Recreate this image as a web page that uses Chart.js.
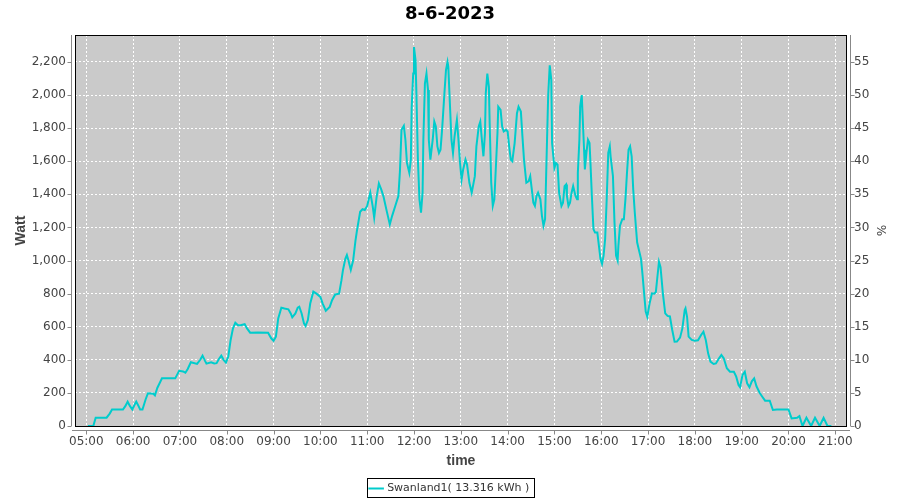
<!DOCTYPE html>
<html>
<head>
<meta charset="utf-8">
<script src="https://cdn.jsdelivr.net/npm/chart.js@4.4.0/dist/chart.umd.min.js"></script>
<style>
  html, body { margin: 0; padding: 0; background: #fff; }
  #wrap { width: 900px; height: 500px; }
</style>
</head>
<body>
<div id="wrap"><canvas id="powerChart" width="900" height="500"></canvas></div>
<script>
const chartTitle = "8-6-2023";
const seriesName = "Swanland1( 13.316 kWh )";

const times = [
  "05:02","05:09","05:12","05:26","05:30","05:33","05:47","05:50","05:53","05:56","05:59","06:02","06:04","06:07","06:09","06:12",
  "06:16","06:19","06:26","06:28","06:31","06:37","06:54","06:59","07:04","07:07","07:10","07:14","07:22","07:26","07:29","07:32",
  "07:34","07:40","07:44","07:47","07:50","07:53","07:56","07:59","08:02","08:05","08:08","08:11","08:14","08:17","08:20","08:23",
  "08:26","08:30","08:40","08:53","08:57","09:00","09:03","09:06","09:10","09:14","09:19","09:22","09:24","09:28","09:31","09:33",
  "09:36","09:39","09:41","09:44","09:47","09:51","09:55","10:00","10:03","10:07","10:12","10:15","10:19","10:24","10:27","10:29",
  "10:32","10:34","10:36","10:39","10:42","10:45","10:47","10:51","10:54","10:57","11:00","11:04","11:07","11:09","11:12","11:15",
  "11:18","11:21","11:25","11:29","11:32","11:36","11:40","11:42","11:44","11:47","11:49","11:51","11:54","11:56","11:57","11:59",
  "12:00","12:02","12:03","12:05","12:07","12:09","12:11","12:12","12:14","12:16","12:18","12:19","12:21","12:24","12:26","12:28",
  "12:30","12:32","12:34","12:36","12:39","12:41","12:43","12:44","12:46","12:48","12:50","12:52","12:55","12:57","12:59","13:01",
  "13:03","13:06","13:08","13:11","13:14","13:18","13:20","13:23","13:25","13:27","13:29","13:31","13:32","13:34","13:36","13:37",
  "13:39","13:41","13:43","13:45","13:47","13:48","13:51","13:53","13:55","13:58","14:00","14:02","14:04","14:06","14:09","14:12",
  "14:14","14:17","14:19","14:21","14:24","14:27","14:29","14:31","14:33","14:35","14:37","14:39","14:42","14:44","14:46","14:48",
  "14:50","14:52","14:54","14:56","14:57","15:00","15:02","15:04","15:06","15:09","15:11","15:13","15:15","15:16","15:18","15:20",
  "15:22","15:24","15:27","15:29","15:30","15:32","15:33","15:35","15:36","15:38","15:39","15:41","15:43","15:45","15:46","15:48",
  "15:50","15:52","15:55","15:57","15:59","16:01","16:03","16:05","16:07","16:09","16:11","16:12","16:15","16:17","16:19","16:21",
  "16:22","16:24","16:27","16:29","16:31","16:33","16:35","16:37","16:39","16:41","16:43","16:45","16:46","16:48","16:51","16:53",
  "16:55","16:57","16:59","17:02","17:05","17:08","17:10","17:12","17:14","17:16","17:19","17:22","17:25","17:28","17:31","17:34",
  "17:37","17:41","17:44","17:47","17:48","17:50","17:52","17:56","18:00","18:04","18:08","18:11","18:14","18:17","18:20","18:24",
  "18:27","18:31","18:34","18:37","18:41","18:45","18:50","18:53","18:56","18:58","19:01","19:04","19:07","19:10","19:13","19:16",
  "19:19","19:23","19:26","19:30","19:36","19:40","19:45","20:00","20:04","20:11","20:14","20:18","20:23","20:29","20:34","20:40",
  "20:45","20:50","20:55"
];

const watts = [
  0,0,50,50,75,100,100,120,147,120,100,130,147,120,100,100,
  160,198,195,185,230,288,288,334,330,322,345,385,375,400,425,395,
  377,385,378,380,405,425,400,383,420,520,590,624,610,607,612,615,
  590,564,565,564,530,515,540,650,715,710,705,680,657,680,715,721,
  680,620,604,640,740,812,800,780,740,697,720,760,795,800,880,943,
  1010,1033,1000,943,1000,1120,1184,1295,1310,1305,1330,1410,1330,1259,1380,1466,
  1430,1386,1300,1218,1270,1330,1390,1540,1790,1814,1730,1590,1530,1610,1920,2130,
  2290,2210,2030,1610,1370,1290,1410,1730,2070,2130,2030,1730,1610,1730,1840,1810,
  1690,1650,1670,1790,2010,2150,2200,2170,1950,1730,1650,1750,1850,1730,1590,1490,
  1550,1610,1580,1470,1410,1510,1690,1810,1840,1730,1630,1770,2010,2130,2050,1830,
  1470,1330,1370,1570,1770,1930,1910,1810,1780,1790,1780,1690,1610,1600,1710,1890,
  1930,1900,1750,1610,1470,1480,1510,1430,1350,1330,1390,1410,1370,1270,1210,1250,
  1630,2000,2180,2090,1710,1560,1590,1580,1410,1330,1350,1450,1460,1390,1330,1350,
  1410,1450,1390,1370,1530,1730,1930,2000,1890,1670,1550,1650,1730,1710,1610,1390,
  1190,1170,1170,1090,1010,980,1030,1130,1370,1650,1690,1630,1510,1230,1030,1000,
  1090,1210,1250,1250,1370,1530,1670,1690,1630,1430,1290,1170,1110,1070,1010,910,
  800,691,660,741,802,800,810,902,993,960,802,681,665,662,580,509,
  510,534,590,701,711,660,540,520,515,518,550,570,520,439,389,375,
  378,409,429,409,349,328,328,298,248,234,308,328,258,234,270,288,
  240,201,180,153,153,97,100,100,46,50,60,0,50,0,50,0,
  50,0,0
];

const hourTicks = [5,6,7,8,9,10,11,12,13,14,15,16,17,18,19,20,21];
const wattTicks = [0,200,400,600,800,1000,1200,1400,1600,1800,2000,2200];
const percentTicks = [0,5,10,15,20,25,30,35,40,45,50,55];

const xMin = 4.7586, xMax = 21.25;
const wattMax = 2363;
const wattPerPercent = 40;

const toHours = t => { const p = t.split(":"); return +p[0] + +p[1] / 60; };
const points = times.map((t, i) => ({ x: toHours(t), y: watts[i] }));

const pad2 = n => String(n).padStart(2, "0");
const fmtTick = v => v.toLocaleString("en-US");

const legendShift = 4;

// plot background, border, offset axis lines, tick marks and legend frame
const frame = {
  id: "frame",
  afterLayout(chart) {
    const lg = chart.legend;
    if (!lg) return;
    lg.top += legendShift;
    lg.bottom += legendShift;
  },
  beforeDraw(chart) {
    const { ctx, chartArea: a } = chart;
    ctx.save();
    ctx.fillStyle = "#cacaca";
    ctx.fillRect(a.left, a.top, a.right - a.left, a.bottom - a.top);
    ctx.restore();
  },
  afterDraw(chart) {
    const { ctx, chartArea: a, scales } = chart;
    ctx.save();
    ctx.strokeStyle = "#000";
    ctx.lineWidth = 1;
    ctx.strokeRect(a.left + 0.5, a.top + 0.5, a.right - a.left - 1, a.bottom - a.top);

    ctx.strokeStyle = "#888";
    const lx = a.left - 3.5, rx = a.right + 3.5, by = a.bottom + 4.5;
    ctx.beginPath();
    ctx.moveTo(lx, a.top); ctx.lineTo(lx, a.bottom);
    ctx.moveTo(rx, a.top); ctx.lineTo(rx, a.bottom);
    ctx.moveTo(a.left - 3, by); ctx.lineTo(a.right + 3, by);
    scales.y.ticks.forEach(t => {
      const y = Math.round(scales.y.getPixelForValue(t.value)) + 0.5;
      ctx.moveTo(lx, y); ctx.lineTo(lx - 4, y);
    });
    scales.y1.ticks.forEach(t => {
      const y = Math.round(scales.y1.getPixelForValue(t.value)) + 0.5;
      ctx.moveTo(rx, y); ctx.lineTo(rx + 4, y);
    });
    scales.x.ticks.forEach(t => {
      const x = Math.round(scales.x.getPixelForValue(t.value)) + 0.5;
      ctx.moveTo(x, by); ctx.lineTo(x, by + 4);
    });
    ctx.stroke();

    const lg = chart.legend;
    if (lg && lg.legendHitBoxes && lg.legendHitBoxes.length) {
      const h = lg.legendHitBoxes[0];
      ctx.strokeStyle = "#000";
      ctx.strokeRect(Math.round(h.left) - 3.5, Math.round(h.top) - 4.5, Math.round(h.width) + 8, Math.round(h.height) + 8);
    }
    ctx.restore();
  }
};

const tickFont = { family: "DejaVu Sans", size: 12 };
const labelFont = { family: "Liberation Sans", size: 14, weight: "bold" };

new Chart(document.getElementById("powerChart"), {
  type: "line",
  data: {
    datasets: [{
      label: seriesName,
      data: points,
      borderColor: "#00cccc",
      backgroundColor: "#00cccc",
      borderWidth: 2,
      pointRadius: 0,
      tension: 0,
      yAxisID: "y"
    }]
  },
  options: {
    responsive: false,
    devicePixelRatio: 1,
    animation: false,
    events: [],
    layout: { padding: 0 },
    plugins: {
      title: {
        display: true,
        text: chartTitle,
        color: "#000",
        font: { family: "DejaVu Sans", size: 18, weight: "bold" },
        padding: { top: 4, bottom: 9.4 }
      },
      legend: {
        display: true,
        position: "bottom",
        labels: {
          color: "#333",
          font: { family: "DejaVu Sans", size: 11 },
          usePointStyle: true,
          pointStyle: "line",
          boxWidth: 15,
          padding: 6
        }
      },
      tooltip: { enabled: false }
    },
    scales: {
      x: {
        type: "linear",
        min: xMin,
        max: xMax,
        afterBuildTicks: s => { s.ticks = hourTicks.map(v => ({ value: v })); },
        afterFit: s => { s.height = 500 - 426 - s.chart.legend.height; },
        ticks: {
          color: "#444",
          font: tickFont,
          padding: 9,
          maxRotation: 0,
          autoSkip: false,
          callback: v => pad2(v) + ":00"
        },
        grid: { color: "#fff", lineWidth: 1, drawTicks: false },
        border: { display: false, dash: [2, 2] },
        title: { display: true, text: "time", color: "#444", font: labelFont, padding: { top: 0, bottom: 3 } }
      },
      y: {
        position: "left",
        min: 0,
        max: wattMax,
        afterBuildTicks: s => { s.ticks = wattTicks.map(v => ({ value: v })); },
        afterFit: s => { s.width = 75; },
        ticks: { color: "#444", font: tickFont, padding: 9, callback: v => fmtTick(v) },
        grid: { color: "#fff", lineWidth: 1, drawTicks: false },
        border: { display: false, dash: [2, 2] },
        title: { display: true, text: "Watt", color: "#444", font: labelFont, padding: { top: 13, bottom: 0 } }
      },
      y1: {
        position: "right",
        min: 0,
        max: wattMax / wattPerPercent,
        afterBuildTicks: s => { s.ticks = percentTicks.map(v => ({ value: v })); },
        afterFit: s => { s.width = 900 - 847; },
        ticks: { color: "#444", font: tickFont, padding: 7 },
        grid: { display: false, drawTicks: false },
        border: { display: false },
        title: { display: true, text: "%", color: "#444", font: { family: "DejaVu Sans", size: 12 }, padding: { top: 13, bottom: 0 } }
      }
    }
  },
  plugins: [frame]
});
</script>
</body>
</html>
